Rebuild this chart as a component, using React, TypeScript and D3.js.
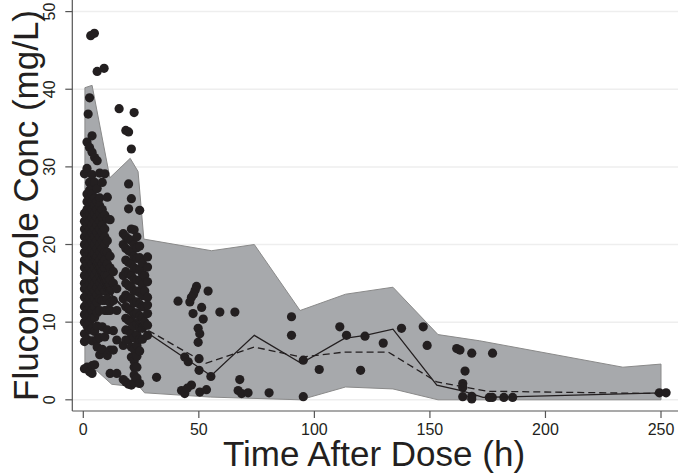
import React from "react";
import * as d3 from "d3";

// ---------- DATA ----------
const xTicks = [0, 50, 100, 150, 200, 250];
const yTicks = [0, 10, 20, 30, 40, 50];

// 90% prediction interval band (upper / lower edges)
const bandUpperTime = [0.7, 3.8, 11.5, 20.3, 23.7, 26.2, 55.5, 74, 93.8, 113.5, 134, 153.5, 171.5, 233.5, 250];
const bandUpperConc = [40.2, 40.5, 28.6, 31.1, 29.4, 20.7, 19.2, 20.0, 11.5, 13.6, 14.5, 8.4, 7.6, 4.2, 4.6];
const bandLowerTime = [0.7, 6.0, 12.3, 24.5, 26.5, 55, 94, 113.5, 134, 153.5, 250];
const bandLowerConc = [4.2, 3.7, 2.0, 1.6, 0.9, 0.35, 0.0, 1.65, 1.4, 0.0, 0.0];

// observed median (solid) and predicted median (dashed)
const obsMedianTime = [2, 10, 26, 55.3, 74, 94.3, 113, 122, 134, 153, 164, 173, 250];
const obsMedianConc = [19.0, 14.2, 9.0, 3.1, 8.3, 4.7, 7.9, 8.3, 9.1, 1.9, 1.15, 0.3, 0.9];
const predMedianTime = [2, 10, 26, 53, 74, 94.3, 113, 132, 153, 175, 250];
const predMedianConc = [18.8, 14.2, 9.3, 4.7, 6.8, 5.5, 6.15, 6.15, 2.3, 1.1, 0.8];

// observed concentrations, dense sampling columns (time, concentrations)
const columnTimes = [0.5, 1.6, 2.1, 2.7, 3.8, 4.9, 6.0, 7.1, 8.2, 9.3, 10.4, 11.6, 13.0, 14.5,
  17.3, 18.4, 19.6, 20.8, 22.0, 23.2, 24.4, 25.6, 26.6, 27.8];
const columnConcs = [
  [29.1, 24.0, 23.0, 22.0, 21.0, 20.0, 19.0, 18.0, 17.0, 16.0, 15.0, 14.3, 13.2, 12.0, 11.0, 10.0, 8.5, 7.5, 4.0],
  [33.2, 29.8, 26.5, 25.5, 24.5, 23.5, 22.5, 21.5, 20.5, 19.5, 18.5, 17.5, 16.5, 15.5, 14.5, 13.5, 12.5, 11.5, 10.5, 9.5, 7.8, 4.2],
  [36.8],
  [38.9, 32.5, 28.0, 27.0, 26.0, 25.0, 24.0, 23.0, 22.0, 21.0, 20.0, 19.0, 18.0, 17.0, 16.0, 15.0, 14.0, 13.0, 12.0, 11.0, 10.0, 9.0, 3.6],
  [34.0, 31.9, 29.0, 27.5, 26.5, 25.5, 24.5, 23.5, 22.5, 21.5, 20.5, 19.5, 18.5, 17.5, 16.5, 15.5, 14.5, 13.5, 12.5, 11.5, 10.5, 9.2, 7.6, 4.4, 3.4],
  [31.2, 28.0, 26.0, 25.0, 24.0, 23.0, 22.0, 21.0, 20.0, 19.0, 18.0, 17.0, 16.0, 15.0, 14.0, 13.0, 12.0, 10.6, 8.8, 4.5],
  [30.8, 27.2, 25.5, 24.5, 23.5, 22.5, 21.5, 20.5, 19.5, 18.5, 17.5, 16.5, 15.5, 14.5, 13.5, 12.5, 11.2, 9.5, 7.8, 6.8],
  [29.2, 26.0, 25.0, 24.0, 23.0, 22.0, 21.0, 20.0, 19.0, 18.0, 17.0, 16.0, 15.0, 14.0, 13.0, 11.5, 8.0, 5.8],
  [28.0, 24.5, 23.5, 22.5, 21.5, 20.5, 19.5, 18.5, 17.5, 16.5, 15.5, 14.5, 12.8, 9.4, 6.5],
  [29.1, 23.8, 22.0, 21.0, 20.0, 19.0, 18.0, 17.0, 16.0, 15.0, 14.0, 12.8, 11.5, 8.1],
  [26.1, 23.3, 20.5, 19.0, 17.5, 16.0, 14.5, 13.0, 11.5, 9.0, 5.7],
  [23.2, 18.5, 17.0, 15.5, 14.0, 12.5, 11.5, 6.4, 3.4],
  [16.5, 15.0, 12.8, 8.9, 6.4],
  [14.3, 11.5, 7.7, 3.4],
  [21.4, 20.0, 16.0, 13.0, 7.0, 2.6],
  [34.7, 21.0, 19.5, 18.0, 16.5, 15.0, 13.5, 12.0, 10.5, 9.0, 7.7, 2.3],
  [34.5, 27.8, 24.6, 20.7, 19.2, 17.7, 16.2, 14.7, 13.2, 11.7, 10.2, 8.9, 7.7, 2.0],
  [32.3, 25.9, 22.0, 20.5, 19.0, 17.5, 16.0, 14.5, 13.0, 11.5, 10.0, 8.5, 6.8, 5.5, 1.9],
  [37.0, 21.9, 20.0, 18.5, 17.0, 15.5, 14.0, 12.5, 11.0, 9.5, 8.0, 6.5, 5.0, 4.2, 3.2, 2.2],
  [21.0, 19.6, 18.2, 16.8, 15.4, 14.0, 12.6, 11.2, 9.8, 8.4, 7.0, 5.6, 4.2, 2.8],
  [24.4, 19.8, 18.3, 16.8, 15.3, 13.8, 12.3, 10.8, 9.3, 7.8, 6.3, 2.1],
  [17.6, 16.2, 14.8, 13.4, 12.0, 10.6, 9.2, 7.8],
  [16.0, 14.0, 12.0, 10.0],
  [18.4, 17.1, 15.2, 13.2, 12.2, 11.1, 9.6, 8.3],
];

// observed concentrations, sparse samples (time h, conc mg/L)
const sparseObs: [number, number][] = [
  [3.2, 46.9], [4.8, 47.2], [6.0, 42.3], [9.0, 42.7], [15.5, 37.5], [31.7, 2.9],
  [41.0, 12.7], [49.0, 14.6], [48.4, 14.1], [47.7, 13.6], [46.8, 13.2], [46.1, 12.6],
  [54.0, 14.0], [51.2, 11.9], [47.5, 11.1], [51.9, 10.4], [59.1, 11.3], [65.6, 11.3],
  [49.7, 9.2], [50.4, 8.5], [49.7, 7.4], [43.9, 5.5], [45.4, 4.9], [50.1, 5.3],
  [50.1, 3.8], [55.2, 3.0], [42.5, 1.2], [43.9, 0.8], [46.8, 1.9], [50.4, 1.0],
  [53.3, 1.3], [45.0, 1.5], [67.7, 2.6], [67.0, 1.2], [68.5, 0.8], [71.3, 0.9],
  [80.4, 0.9], [90.1, 10.7], [90.1, 8.3], [95.2, 5.1], [95.2, 0.4], [102.1, 3.9],
  [111.0, 9.4], [113.9, 8.3], [121.9, 8.2], [120.0, 3.8], [129.8, 7.3], [137.7, 9.2],
  [147.1, 9.4], [148.8, 7.0], [161.6, 6.6], [163.0, 6.4], [168.1, 6.0], [177.1, 6.0],
  [165.2, 3.7], [164.2, 2.1], [164.2, 1.6], [164.2, 0.4], [168.1, 0.45], [168.1, 0.1],
  [175.7, 0.3], [177.0, 0.3], [182.0, 0.3], [185.8, 0.3], [249.3, 0.9], [252.2, 0.9],
];

// ---------- CHART ----------
const W = 678;
const H = 475;
const FONT = "'Liberation Sans', Arial, Helvetica, sans-serif";
const INK = "#231f20";

export default function App() {
  const x = d3.scaleLinear().domain([0, 250]).range([83.3, 661]);
  const y = d3.scaleLinear().domain([0, 50]).range([399.8, 11.6]);
  const axisX = 72.3;
  const axisY = 411;
  const rightEdge = W;

  const upper = bandUpperTime.map((t, i) => [x(t), y(bandUpperConc[i])] as [number, number]);
  const lower = bandLowerTime.map((t, i) => [x(t), y(bandLowerConc[i])] as [number, number]);
  const bandPath = d3.line()([...upper, ...lower.slice().reverse()]) + "Z";

  const lineGen = d3.line<[number, number]>().x((d) => x(d[0])).y((d) => y(d[1]));
  const solidPath = lineGen(obsMedianTime.map((t, i) => [t, obsMedianConc[i]]));
  const dashedPath = lineGen(predMedianTime.map((t, i) => [t, predMedianConc[i]]));

  const points: [number, number][] = [
    ...columnTimes.flatMap((t, i) => columnConcs[i].map((c) => [t, c] as [number, number])),
    ...sparseObs,
  ];

  return (
    <svg width={W} height={H} style={{ position: "absolute", left: 0, top: 0, background: "#fff" }}>
      <rect x={0} y={0} width={W} height={H} fill="#fff" />
      {yTicks.map((t) => (
        <line key={"g" + t} x1={axisX} x2={rightEdge} y1={y(t)} y2={y(t)} stroke="#eeeeee" strokeWidth={1.5} />
      ))}
      <path d={bandPath} fill="#a7a9ac" stroke="#8a8a8a" strokeWidth={1} />
      {points.map((p, i) => (
        <circle key={i} cx={x(p[0])} cy={y(p[1])} r={4.6} fill={INK} />
      ))}
      <path d={solidPath || ""} fill="none" stroke={INK} strokeWidth={1.3} />
      <path d={dashedPath || ""} fill="none" stroke={INK} strokeWidth={1.3} strokeDasharray="7,4" />

      {/* axes */}
      <line x1={axisX} x2={axisX} y1={0} y2={axisY} stroke="#555" strokeWidth={1.2} />
      <line x1={axisX} x2={rightEdge} y1={axisY} y2={axisY} stroke="#555" strokeWidth={1.2} />
      {yTicks.map((t) => (
        <g key={"y" + t}>
          <line x1={axisX - 7} x2={axisX} y1={y(t)} y2={y(t)} stroke="#555" strokeWidth={1.2} />
          <text
            transform={`translate(54.5,${y(t)}) rotate(-90)`}
            textAnchor="middle"
            fontFamily={FONT}
            fontSize={16}
            fill={INK}
          >
            {t}
          </text>
        </g>
      ))}
      {xTicks.map((t) => (
        <g key={"x" + t}>
          <line x1={x(t)} x2={x(t)} y1={axisY} y2={axisY + 7} stroke="#555" strokeWidth={1.2} />
          <text x={x(t)} y={435} textAnchor="middle" fontFamily={FONT} fontSize={16} fill={INK}>
            {t}
          </text>
        </g>
      ))}
      <text x={374} y={466} textAnchor="middle" fontFamily={FONT} fontSize={35} fill={INK}>
        Time After Dose (h)
      </text>
      <text
        transform={`translate(38,205.5) rotate(-90)`}
        textAnchor="middle"
        fontFamily={FONT}
        fontSize={35}
        fill={INK}
      >
        Fluconazole Conc (mg/L)
      </text>
    </svg>
  );
}
